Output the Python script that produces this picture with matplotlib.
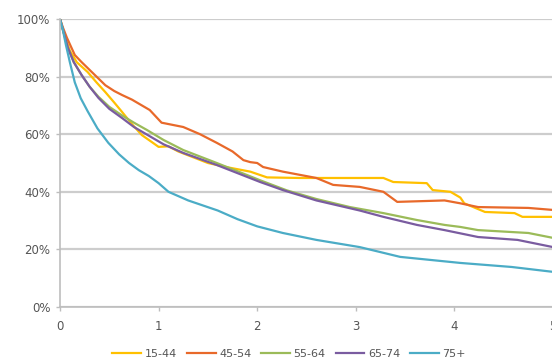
import matplotlib
matplotlib.use("Agg")
import matplotlib.pyplot as plt
from matplotlib.ticker import FuncFormatter

labels = ["15-44", "45-54", "55-64", "65-74", "75+"]
colors = ["#FFC000", "#E8692A", "#9BBB59", "#7A5CA0", "#4BACC6"]

x_1544 = [0, 0.04, 0.1, 0.17, 0.28, 0.37, 0.46, 0.55, 0.63, 0.73, 0.83, 0.93, 1.0, 1.1, 1.2, 1.35, 1.5, 1.7, 1.93, 2.1, 2.43, 2.8, 3.04, 3.28, 3.38, 3.72, 3.78, 3.96, 4.06, 4.1, 4.31, 4.61, 4.69, 5.0]
y_1544 = [100, 95, 89, 85, 81.6, 78, 74.6, 71, 67.7, 63.5, 59.7, 57.3, 55.6, 55.8, 54, 52, 50, 48.5, 47, 45, 44.8, 44.8, 44.8, 44.8, 43.4, 43, 40.6, 40, 38, 36, 33, 32.6, 31.3, 31.3]

x_4554 = [0, 0.03, 0.07, 0.15, 0.22, 0.28, 0.37, 0.46, 0.55, 0.63, 0.73, 0.83, 0.91, 1.03, 1.25, 1.42, 1.59, 1.75, 1.86, 1.93, 2.0, 2.06, 2.26, 2.6, 2.77, 3.04, 3.28, 3.42, 3.9, 4.06, 4.24, 4.75, 5.0]
y_4554 = [100, 97, 93.5, 87.5, 85, 83, 80, 77, 75, 73.6, 72, 70, 68.4, 64, 62.5, 60, 57, 54, 51, 50.3, 50, 48.6, 47, 44.8, 42.4, 41.7, 40, 36.5, 37, 36, 34.7, 34.4, 33.7]

x_5564 = [0, 0.04, 0.08, 0.14, 0.22, 0.3, 0.39, 0.5, 0.63, 0.75, 0.88, 1.05, 1.25, 1.59, 2.03, 2.3, 2.6, 2.94, 3.28, 3.62, 3.9, 4.06, 4.24, 4.75, 5.0]
y_5564 = [100, 95, 90, 85, 80.5, 76.5, 73, 69.5, 66.5, 64, 61.5, 58, 54.5, 50, 44, 40.5, 37.5, 34.7, 32.6, 30.2, 28.5, 27.8, 26.7, 25.7, 24]

x_6574 = [0, 0.04, 0.08, 0.14, 0.22, 0.3, 0.39, 0.5, 0.63, 0.75, 0.89, 1.05, 1.25, 1.59, 2.03, 2.26, 2.6, 3.04, 3.28, 3.62, 3.9, 4.24, 4.64, 5.0]
y_6574 = [100, 95, 90, 85, 80.5, 76.5, 72.6, 68.8, 65.6, 62.5, 59.7, 56.5, 53.5, 49.3, 43.4, 40.6, 37, 33.5, 31.3, 28.5, 26.7, 24.3, 23.3, 20.8]

x_75 = [0, 0.03, 0.06, 0.1, 0.15, 0.21, 0.28, 0.38, 0.49, 0.6, 0.7, 0.8, 0.9, 1.0, 1.1, 1.3, 1.6, 1.8, 2.0, 2.26, 2.6, 3.04, 3.45, 4.06, 4.58, 5.0]
y_75 = [100, 96, 91, 85, 78, 72.5, 68, 62, 57, 53, 50, 47.5, 45.5, 43, 40, 37, 33.5, 30.5, 28, 25.7, 23.3, 20.8, 17.4, 15.3, 13.9, 12.2]

series_x = [x_1544, x_4554, x_5564, x_6574, x_75]
series_y = [y_1544, y_4554, y_5564, y_6574, y_75]

fig = plt.figure(figsize=(5.52, 3.6), dpi=100)
ax = fig.add_axes([60/552, 53/360, 493/552, 288/360])

for xs, ys, lab, col in zip(series_x, series_y, labels, colors):
    ax.plot(xs, [v/100 for v in ys], color=col, lw=1.6, label=lab, solid_joinstyle="round")

ax.set_xlim(0, 5)
ax.set_ylim(0, 1)
ax.set_yticks([0, 0.2, 0.4, 0.6, 0.8, 1.0])
ax.set_xticks([0, 1, 2, 3, 4, 5])
ax.yaxis.set_major_formatter(FuncFormatter(lambda v, p: f"{int(round(v*100))}%"))
ax.grid(axis="y", color="#CDCDCD", lw=1.6)
ax.set_axisbelow(True)
for s in ["top", "right"]:
    ax.spines[s].set_visible(False)
ax.spines["left"].set_color("#BDBDBD")
ax.spines["bottom"].set_color("#BDBDBD")
ax.spines["left"].set_linewidth(1.2)
ax.spines["bottom"].set_linewidth(1.2)
ax.tick_params(axis="both", colors="#BDBDBD", labelcolor="#555555", labelsize=8.5, length=3, width=1)
ax.tick_params(axis="x", pad=6)
ax.tick_params(axis="y", pad=4)

fig.legend(loc="center", bbox_to_anchor=(289/552, 1 - 354/360), ncol=5, frameon=False,
           fontsize=8, handlelength=2.6, handletextpad=0.3, columnspacing=0.9,
           labelcolor="#555555")

fig.savefig("out.png", dpi=100)
